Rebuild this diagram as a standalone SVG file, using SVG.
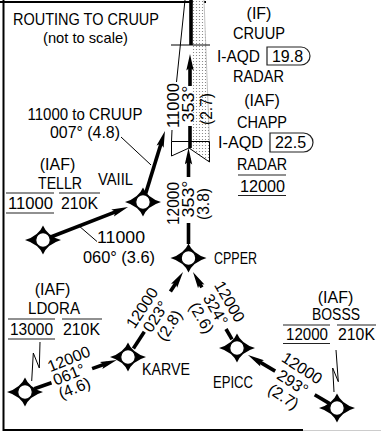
<svg xmlns="http://www.w3.org/2000/svg" width="381" height="432" viewBox="0 0 381 432">
<style>
text { font-family: "Liberation Sans", Arial, sans-serif; font-size: 16px; fill: #000; }
.t { font-size: 17px; }
.s { font-size: 14.5px; }
.m { text-anchor: middle; }
.thick { stroke: #000; stroke-width: 3.6; fill: none; }
.thin { stroke: #000; stroke-width: 1; fill: none; }
.rule { stroke: #222; stroke-width: 1.2; fill: none; }
.arr { marker-end: url(#ah); }
</style>
<defs>
<marker id="ah" markerUnits="userSpaceOnUse" viewBox="-7 -4 18 8" markerWidth="18" markerHeight="8" refX="0" refY="0" orient="auto">
<path d="M10,0 L-6.5,-3.7 L-3.5,0 L-6.5,3.7 Z" fill="#000"/>
</marker>
<pattern id="dots" width="3" height="3" patternUnits="userSpaceOnUse">
<rect width="3" height="3" fill="#fff"/><circle cx="1.5" cy="1.5" r="0.6" fill="#777"/>
</pattern>
<g id="fix">
<path d="M0,-14.5 Q4.2,-4.2 18,0 Q4.2,4.2 0,14.5 Q-4.2,4.2 -18,0 Q-4.2,-4.2 0,-14.5 Z" fill="#000"/>
<circle r="7.3" fill="#fff" stroke="#000" stroke-width="1.2"/>
</g>
</defs>

<g id="frame">
<line x1="3.5" y1="0" x2="3.5" y2="431" stroke="#000" stroke-width="2"/>
<line x1="0" y1="2" x2="206" y2="2" stroke="#000" stroke-width="2"/>
<line x1="3" y1="430" x2="303" y2="430" stroke="#000" stroke-width="2"/>
<line x1="303" y1="430.5" x2="381" y2="430.5" stroke="#ccc" stroke-width="1"/>
</g>

<g id="title">
<text class="t m" x="86" y="25" textLength="146" lengthAdjust="spacingAndGlyphs">ROUTING TO CRUUP</text>
<text class="s m" x="85.5" y="42.5" textLength="85" lengthAdjust="spacingAndGlyphs">(not to scale)</text>
</g>

<g id="localizer">
<path d="M192.5,0 L204,0 L209.5,141.5 L209.5,162 L189,148 L192.5,141.5 Z" fill="url(#dots)"/>
<line x1="204" y1="0" x2="209.5" y2="141.5" stroke="#999" stroke-width="0.6"/>
<path class="thin" d="M185,0 L176.5,82"/>
<path class="thin" d="M172,130 L171.5,141.5 L171.5,156 L189,148 L209.5,162 L209.5,141.5"/>
<line class="thin" x1="171.5" y1="141.5" x2="209.5" y2="141.5"/>
</g>

<g id="connectors">
<line class="thick" x1="191" y1="0" x2="191" y2="45"/>
<line class="thick" x1="190" y1="148" x2="190" y2="126"/>
<line class="thick arr" x1="190" y1="86" x2="190" y2="64"/>
<line class="thick" x1="188.5" y1="244" x2="188.5" y2="223"/>
<line class="thick arr" x1="188.5" y1="177" x2="188.5" y2="158"/>
<line class="thick arr" x1="51.4" y1="236.7" x2="118.7" y2="210.6"/>
<line class="thick arr" x1="145.7" y1="193.4" x2="162" y2="140.5"/>
<line class="thick" x1="133.4" y1="348.6" x2="144.3" y2="331.8"/>
<line class="thick arr" x1="170.4" y1="291.5" x2="177.6" y2="280.4"/>
<line class="thick" x1="232" y1="339.3" x2="226" y2="329"/>
<line class="thick arr" x1="201.9" y1="287.4" x2="198" y2="280.7"/>
<line class="thick" x1="34.4" y1="388.7" x2="51.5" y2="382.8"/>
<line class="thick arr" x1="92.1" y1="368.6" x2="107.3" y2="363.3"/>
<line class="thick" x1="330.1" y1="403.9" x2="314.7" y2="394.7"/>
<line class="thick arr" x1="275.2" y1="371.1" x2="256.6" y2="360.1"/>
<line class="thin" x1="80" y1="226.8" x2="97" y2="241.5"/>
<line class="thin" x1="121" y1="137" x2="151" y2="165"/>
<path class="thin" d="M40,342 L39.3,368 L33.3,353 L31.7,381"/>
<path class="thin" d="M336,350 L338.3,381.7 L332.7,368 L334,392"/>
</g>

<g id="seg-labels">
<text class="m" x="85" y="120" textLength="115" lengthAdjust="spacingAndGlyphs">11000 to CRUUP</text>
<text class="m" x="85" y="137.5" textLength="70" lengthAdjust="spacingAndGlyphs">007° (4.8)</text>
<text class="m" x="121" y="243" textLength="48" lengthAdjust="spacingAndGlyphs">11000</text>
<text class="m" x="119" y="262.5" textLength="72" lengthAdjust="spacingAndGlyphs">060° (3.6)</text>
<g transform="translate(178.5,105.5) rotate(-90)"><text class="m" x="0" y="0" textLength="45" lengthAdjust="spacingAndGlyphs">11000</text></g>
<g transform="translate(194,104) rotate(-90)"><text class="m" x="0" y="0" textLength="37" lengthAdjust="spacingAndGlyphs">353°</text></g>
<g transform="translate(212,109) rotate(-90)"><text class="m" x="0" y="0" textLength="32" lengthAdjust="spacingAndGlyphs">(2.7)</text></g>
<g transform="translate(178.5,203.5) rotate(-90)"><text class="m" x="0" y="0" textLength="43" lengthAdjust="spacingAndGlyphs">12000</text></g>
<g transform="translate(193.5,199) rotate(-90)"><text class="m" x="0" y="0" textLength="37" lengthAdjust="spacingAndGlyphs">353°</text></g>
<g transform="translate(209,204) rotate(-90)"><text class="m" x="0" y="0" textLength="32" lengthAdjust="spacingAndGlyphs">(3.8)</text></g>
<g transform="translate(155.6,316.5) rotate(-57)">
<text class="m" x="0" y="-10.6">12000</text><text class="m" x="0" y="5.6">023°</text><text class="m" x="0" y="21.8">(2.8)</text>
</g>
<g transform="translate(215.7,309.6) rotate(60)">
<text class="m" x="0" y="-10.6">12000</text><text class="m" x="0" y="5.6">324°</text><text class="m" x="0" y="21.8">(2.6)</text>
</g>
<g transform="translate(69.4,374.3) rotate(-22)">
<text x="-17" y="-9">12000</text><text x="-17" y="5.5">061°</text><text x="-17" y="20">(4.6)</text>
</g>
<g transform="translate(292.8,382.3) rotate(33)">
<text class="m" x="0" y="-11.5">12000</text><text class="m" x="0" y="5.6">293°</text><text class="m" x="0" y="22.5">(2.7)</text>
</g>
</g>

<g id="node-CRUUP">
<line class="thin" x1="171" y1="45" x2="210" y2="45"/>
<text class="m" x="259" y="19">(IF)</text>
<text class="m" x="259" y="39" textLength="52" lengthAdjust="spacingAndGlyphs">CRUUP</text>
<text x="217" y="62" textLength="43" lengthAdjust="spacingAndGlyphs">I-AQD</text>
<path class="rule" d="M267,47 H301 A9,9 0 0 1 301,65 H267 Z"/>
<text class="m" x="287.5" y="62">19.8</text>
<text class="m" x="258.5" y="82" textLength="51" lengthAdjust="spacingAndGlyphs">RADAR</text>
</g>

<g id="node-CHAPP">
<text class="m" x="262" y="105.5">(IAF)</text>
<text class="m" x="262" y="128" textLength="50" lengthAdjust="spacingAndGlyphs">CHAPP</text>
<text x="218" y="147.5" textLength="45" lengthAdjust="spacingAndGlyphs">I-AQD</text>
<path class="rule" d="M270,133 H303.5 A9.5,9.5 0 0 1 303.5,152 H270 Z"/>
<text class="m" x="290.5" y="147.5">22.5</text>
<text class="m" x="262" y="170" textLength="50" lengthAdjust="spacingAndGlyphs">RADAR</text>
<line class="rule" x1="238" y1="175" x2="286" y2="175"/>
<text class="m" x="262.5" y="192" textLength="45" lengthAdjust="spacingAndGlyphs">12000</text>
<line class="rule" x1="238" y1="195.5" x2="286" y2="195.5"/>
</g>

<g id="node-TELLR">
<use href="#fix" x="43" y="240"/>
<text class="m" x="57.5" y="169.5">(IAF)</text>
<text class="m" x="60" y="189" textLength="44" lengthAdjust="spacingAndGlyphs">TELLR</text>
<line class="rule" x1="6" y1="193" x2="54" y2="193"/>
<line class="rule" x1="59" y1="193" x2="100" y2="193"/>
<text class="m" x="30.5" y="209" textLength="45" lengthAdjust="spacingAndGlyphs">11000</text>
<line class="rule" x1="6" y1="213" x2="54" y2="213"/>
<text class="m" x="79.5" y="209" textLength="37" lengthAdjust="spacingAndGlyphs">210K</text>
</g>

<g id="node-VAIIL">
<use href="#fix" x="143" y="202"/>
<text class="m" x="115.5" y="185" textLength="35" lengthAdjust="spacingAndGlyphs">VAIIL</text>
</g>

<g id="node-CPPER">
<use href="#fix" x="188.5" y="258"/>
<text x="214" y="264" textLength="43" lengthAdjust="spacingAndGlyphs">CPPER</text>
</g>

<g id="node-LDORA">
<use href="#fix" x="25" y="392"/>
<text class="m" x="52.5" y="295">(IAF)</text>
<text class="m" x="54" y="314" textLength="52" lengthAdjust="spacingAndGlyphs">LDORA</text>
<line class="rule" x1="8" y1="319" x2="55" y2="319"/>
<line class="rule" x1="62" y1="319" x2="102" y2="319"/>
<text class="m" x="31.5" y="335" textLength="43" lengthAdjust="spacingAndGlyphs">13000</text>
<line class="rule" x1="8" y1="339" x2="55" y2="339"/>
<text class="m" x="81.5" y="335" textLength="37" lengthAdjust="spacingAndGlyphs">210K</text>
</g>

<g id="node-KARVE">
<use href="#fix" x="128" y="357"/>
<text x="142" y="375" textLength="48" lengthAdjust="spacingAndGlyphs">KARVE</text>
</g>

<g id="node-EPICC">
<use href="#fix" x="237" y="348"/>
<text x="213" y="388" textLength="40" lengthAdjust="spacingAndGlyphs">EPICC</text>
</g>

<g id="node-BOSSS">
<use href="#fix" x="337" y="408"/>
<text class="m" x="335.5" y="302.5">(IAF)</text>
<text class="m" x="336" y="320" textLength="48" lengthAdjust="spacingAndGlyphs">BOSSS</text>
<line class="rule" x1="283" y1="325" x2="330" y2="325"/>
<line class="rule" x1="337" y1="325" x2="376" y2="325"/>
<text class="m" x="307" y="340" textLength="42" lengthAdjust="spacingAndGlyphs">12000</text>
<line class="rule" x1="283" y1="343.5" x2="330" y2="343.5"/>
<text class="m" x="356.5" y="340" textLength="37" lengthAdjust="spacingAndGlyphs">210K</text>
</g>
</svg>
